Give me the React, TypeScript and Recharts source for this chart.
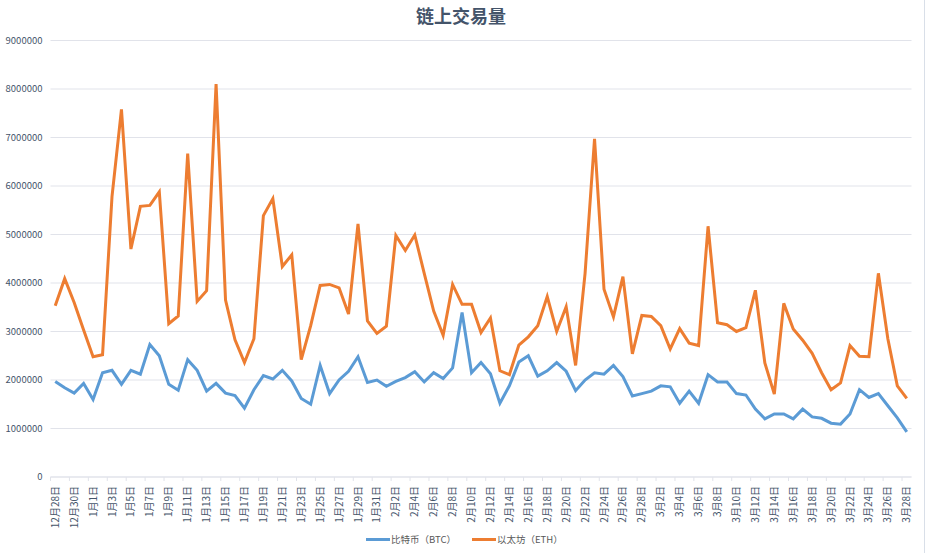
import React from "react";
import { LineChart, Line, XAxis, YAxis, CartesianGrid, Legend } from "recharts";

const monthDays: [number, number, number][] = [[12, 28, 31], [1, 1, 31], [2, 1, 28], [3, 1, 28]];
const categories: string[] = monthDays.flatMap(([m, a, b]) =>
  Array.from({ length: b - a + 1 }, (_, i) => `${m}月${a + i}日`)
);

const btc = [
  1970000, 1840000, 1730000, 1930000, 1600000, 2150000, 2200000, 1910000, 2200000, 2120000,
  2730000, 2500000, 1910000, 1790000, 2420000, 2200000, 1770000, 1930000, 1730000, 1680000,
  1420000, 1800000, 2090000, 2020000, 2200000, 1980000, 1620000, 1500000, 2300000, 1720000,
  2000000, 2180000, 2480000, 1950000, 2000000, 1870000, 1970000, 2050000, 2170000, 1960000,
  2150000, 2030000, 2250000, 3390000, 2150000, 2360000, 2130000, 1520000, 1880000, 2370000,
  2500000, 2080000, 2190000, 2360000, 2180000, 1780000, 2000000, 2150000, 2120000, 2300000,
  2070000, 1670000, 1720000, 1770000, 1880000, 1860000, 1520000, 1770000, 1520000, 2110000,
  1960000, 1960000, 1720000, 1690000, 1400000, 1200000, 1300000, 1300000, 1200000, 1400000,
  1240000, 1210000, 1110000, 1090000, 1300000, 1800000, 1640000, 1720000, 1470000, 1220000,
  930000,
];
const eth = [
  3530000, 4090000, 3600000, 3030000, 2480000, 2520000, 5780000, 7580000, 4700000, 5580000,
  5600000, 5880000, 3160000, 3320000, 6670000, 3620000, 3840000, 8100000, 3650000, 2830000,
  2360000, 2850000, 5390000, 5740000, 4340000, 4580000, 2420000, 3120000, 3950000, 3970000,
  3900000, 3360000, 5220000, 3220000, 2960000, 3110000, 4980000, 4670000, 4990000, 4200000,
  3420000, 2920000, 3970000, 3560000, 3560000, 2980000, 3280000, 2190000, 2110000, 2720000,
  2890000, 3120000, 3720000, 3000000, 3510000, 2300000, 4200000, 6970000, 3870000, 3300000,
  4130000, 2540000, 3330000, 3310000, 3120000, 2640000, 3060000, 2760000, 2710000, 5170000,
  3180000, 3140000, 3000000, 3080000, 3850000, 2350000, 1710000, 3580000, 3050000, 2820000,
  2550000, 2150000, 1800000, 1940000, 2710000, 2490000, 2480000, 4200000, 2850000, 1880000,
  1620000,
];
const yTicks = [0, 1000000, 2000000, 3000000, 4000000, 5000000, 6000000, 7000000, 8000000, 9000000];
const rows = categories.map((day, i) => ({ day, btc: btc[i], eth: eth[i] }));

const BLUE = "#5b9bd5";
const ORANGE = "#ed7d31";
const GRID = "#e1e3ea";
const TEXT = "#44546a";
const FONT = "'Noto Sans CJK SC', 'Noto Sans', sans-serif";
const W = 926, H = 553, LEFT = 50.5, RIGHT = 911.5;
const HALF_BAND = (RIGHT - LEFT) / 91 / 2;

const XTick = (p: any) => {
  const { x, y, payload } = p;
  return (
    <g>
      <line x1={x - HALF_BAND} x2={x - HALF_BAND} y1={y - 8} y2={y - 4} stroke={GRID} />
      <text transform={`translate(${x + 3.5},${y + 1}) rotate(-90)`} textAnchor="end" fontSize={10} fill={TEXT} fontFamily={FONT}>
        {payload.value}
      </text>
    </g>
  );
};

const LegendBox = () => (
  <div style={{ position: "absolute", left: 366, top: 531, display: "flex", fontFamily: FONT, fontSize: 9.5, color: "#595959", lineHeight: "16px" }}>
    {[["比特币（BTC）", BLUE], ["以太坊（ETH）", ORANGE]].map(([t, c], i) => (
      <div key={t} style={{ display: "flex", alignItems: "center", marginRight: i === 0 ? 16 : 0 }}>
        <span style={{ display: "inline-block", width: 24, height: 3, background: c, marginRight: 1 }} />
        <span>{t}</span>
      </div>
    ))}
  </div>
);

export default function App() {
  return (
    <div style={{ position: "absolute", left: 0, top: 0, width: W, height: H, background: "#fff", overflow: "hidden" }}>
      <div style={{ position: "absolute", left: 0, width: 922, top: 3, textAlign: "center", fontFamily: FONT, fontSize: 18, fontWeight: 700, color: TEXT, lineHeight: "24px" }}>
        链上交易量
      </div>
      <LineChart width={W} height={H} data={rows} margin={{ top: 40.5, right: W - RIGHT, bottom: 6, left: 0 }}>
        <CartesianGrid vertical={false} stroke={GRID} />
        <XAxis
          dataKey="day"
          interval={1}
          padding={{ left: HALF_BAND, right: HALF_BAND }}
          tick={<XTick />}
          tickLine={false}
          axisLine={{ stroke: GRID }}
          height={70}
        />
        <YAxis
          width={LEFT}
          domain={[0, 9000000]}
          ticks={yTicks}
          interval={0}
          axisLine={false}
          tickLine={false}
          tick={{ fontSize: 9.5, fill: TEXT, fontFamily: FONT }}
          tickMargin={2}
        />
        <Legend content={LegendBox} wrapperStyle={{ left: 0, top: 0, width: W, height: 0 }} />
        <Line dataKey="btc" name="比特币（BTC）" stroke={BLUE} strokeWidth={3} dot={false} isAnimationActive={false} />
        <Line dataKey="eth" name="以太坊（ETH）" stroke={ORANGE} strokeWidth={3} dot={false} isAnimationActive={false} />
      </LineChart>
      <div style={{ position: "absolute", left: 924, top: 0, width: 1, height: H, background: "#d9dfe8" }} />
    </div>
  );
}
